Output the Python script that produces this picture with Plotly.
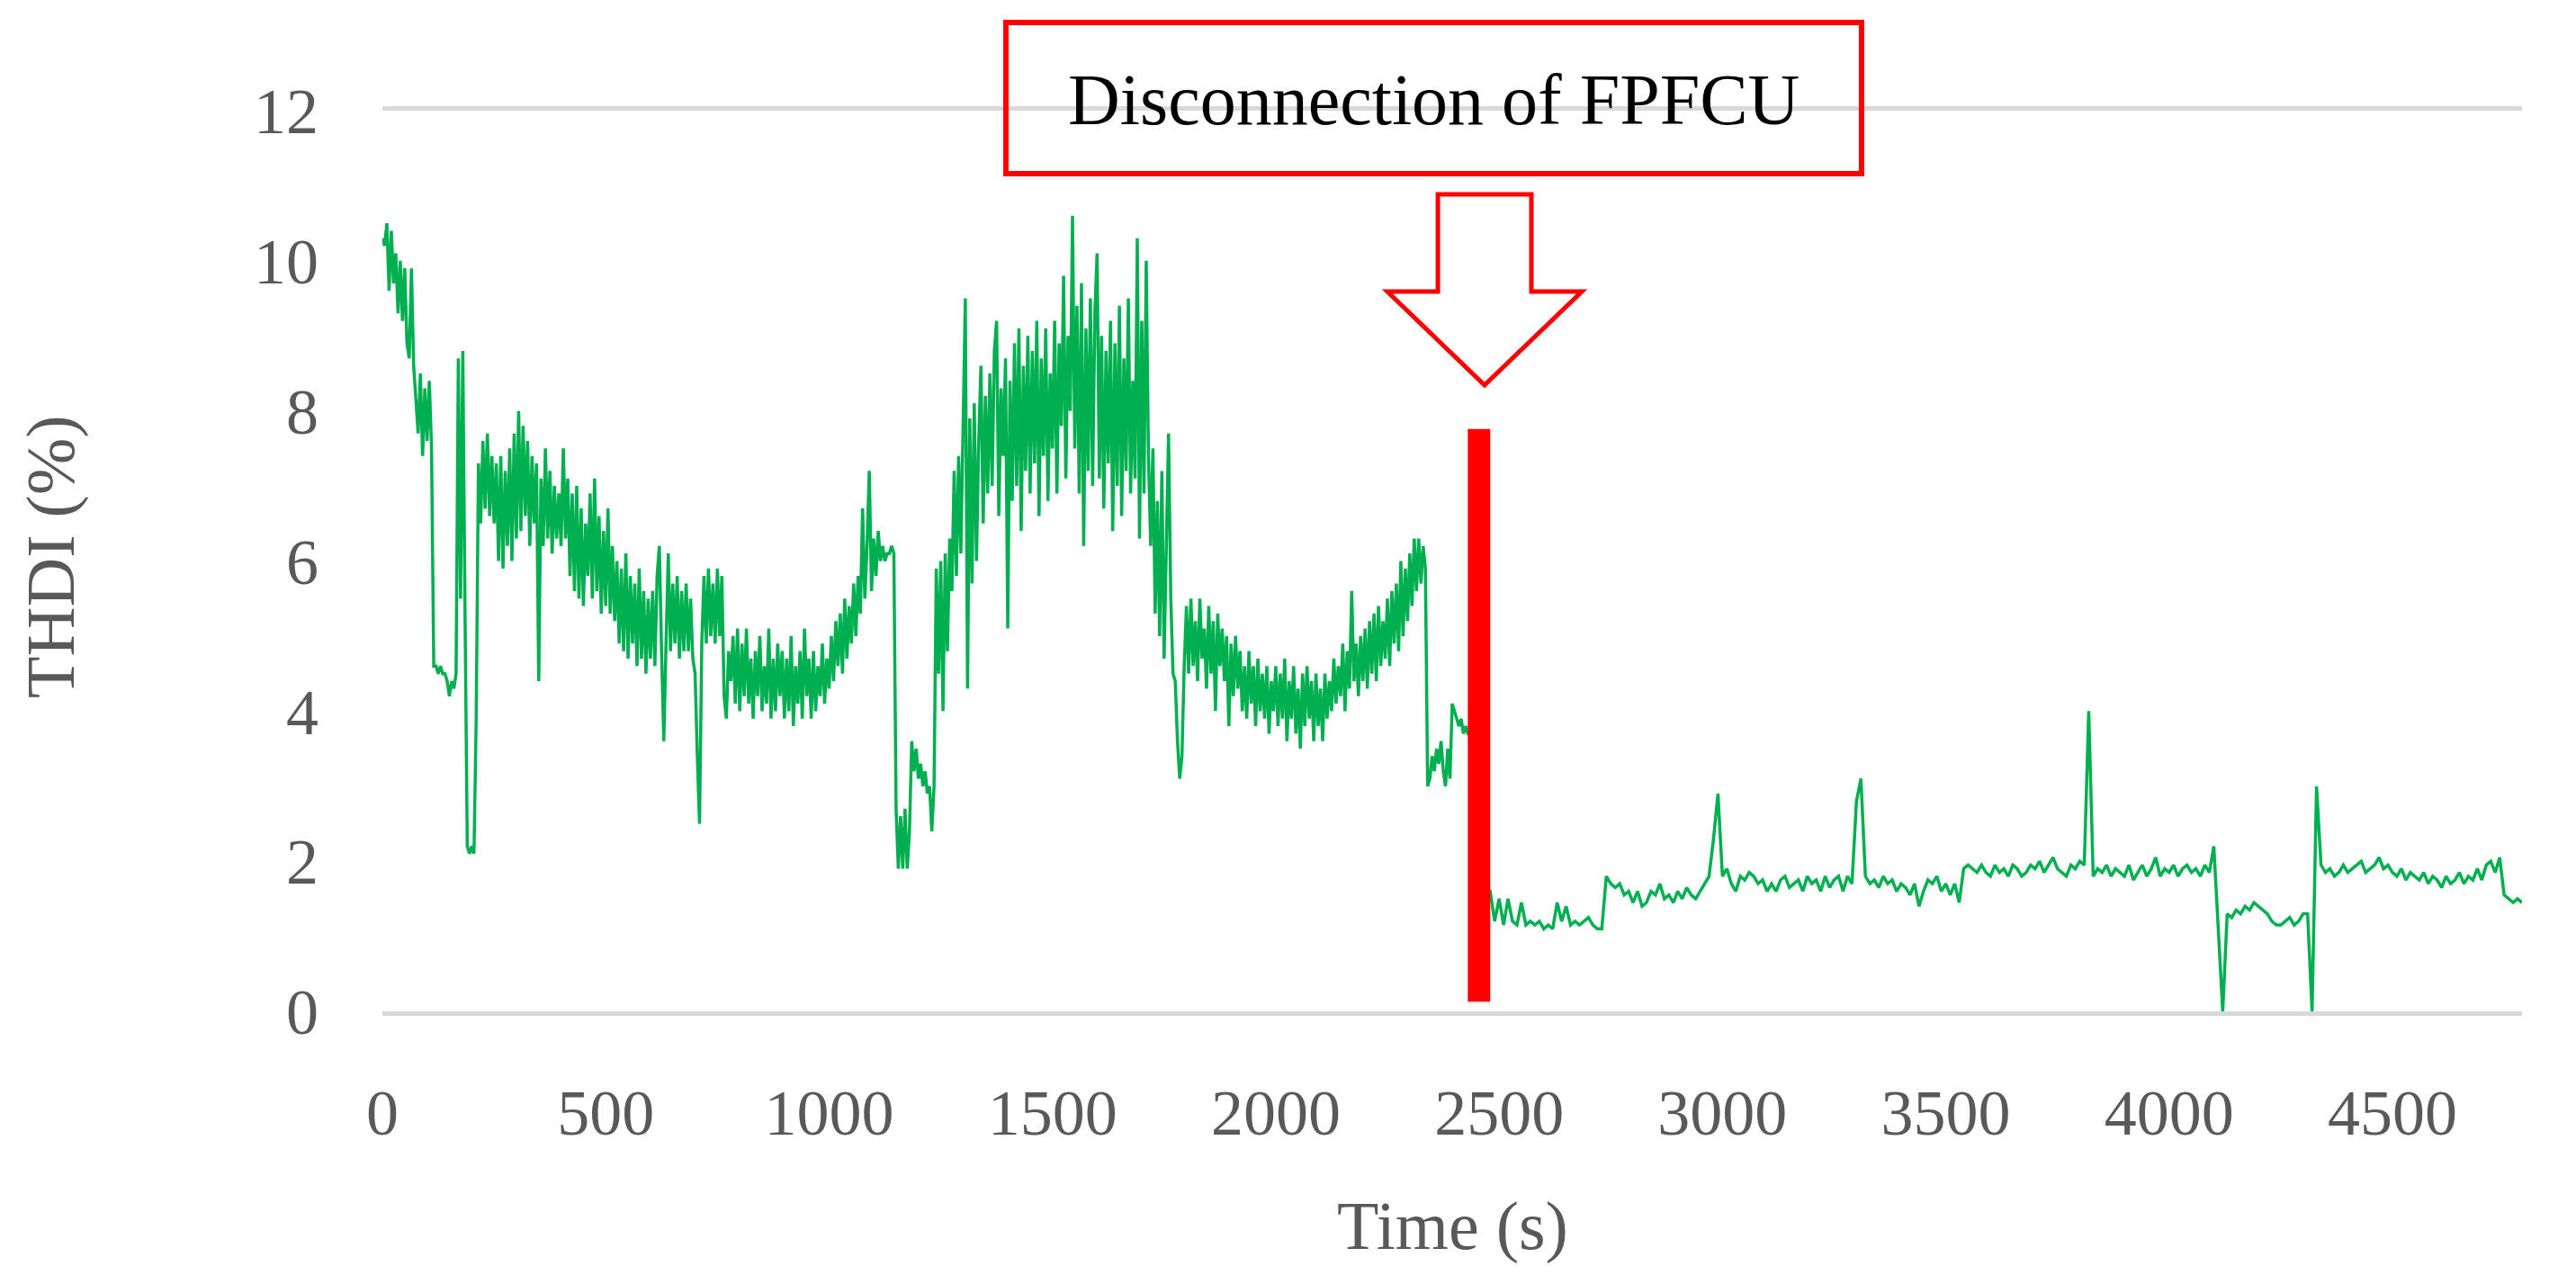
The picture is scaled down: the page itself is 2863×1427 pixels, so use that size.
"""
THDI trend recorded around the disconnection of the FPFCU.
Single green trace, red marker bar at the disconnection instant and a callout box.
"""

import plotly.graph_objects as go

# before the disconnection the signal is very noisy, so it is read every 5 s;
# afterwards it is flat enough to read every 10 s
FAST_STEP_S = 5
SLOW_START_S = 2450
SLOW_STEP_S = 10

# THDI (%) from t = 0 s, every 5 s (one row = 100 s)
THDI_FAST = [
	10.3, 10.2, 10.5, 9.6, 10.4, 9.7, 10.1, 9.3, 10.0, 9.2, 9.9, 8.9, 8.7, 9.9, 8.6, 8.1, 7.7, 8.5, 7.4, 8.3,
	7.6, 8.4, 7.5, 4.6, 4.6, 4.5, 4.6, 4.5, 4.5, 4.4, 4.2, 4.4, 4.3, 4.5, 8.7, 5.5, 8.8, 5.3, 2.2, 2.1,
	2.2, 2.1, 3.9, 7.3, 6.5, 7.6, 6.7, 7.7, 6.6, 7.4, 6.5, 7.3, 6.0, 7.4, 5.9, 7.2, 6.2, 7.5, 6.0, 7.7,
	6.3, 8.0, 6.4, 7.8, 6.6, 7.6, 6.2, 7.4, 6.5, 7.3, 4.4, 7.1, 6.2, 7.5, 6.3, 7.2, 6.1, 7.0, 6.3, 6.9,
	6.2, 7.5, 6.3, 7.1, 5.8, 6.9, 5.6, 7.0, 5.5, 6.7, 5.4, 6.5, 5.8, 6.9, 5.5, 7.1, 5.6, 6.6, 5.3, 6.4,
	5.4, 6.7, 5.3, 6.2, 5.2, 6.0, 4.9, 5.9, 4.8, 6.1, 4.7, 5.8, 4.9, 5.7, 4.6, 5.9, 4.7, 5.6, 4.5, 5.5,
	4.7, 5.6, 4.6, 5.8, 6.2, 4.8, 3.6, 4.9, 6.1, 4.8, 5.7, 4.9, 5.8, 4.7, 5.6, 4.8, 5.7, 4.8, 5.5, 4.7,
	4.5, 3.4, 2.5, 4.9, 5.8, 4.9, 5.9, 5.0, 5.7, 4.9, 5.9, 5.0, 5.8, 4.2, 3.9, 4.8, 4.4, 5.0, 4.1, 5.1,
	4.0, 4.9, 4.2, 5.1, 4.1, 4.7, 3.9, 4.8, 4.2, 5.0, 4.0, 4.6, 4.1, 5.1, 3.9, 4.7, 4.0, 4.9, 4.2, 4.8,
	3.9, 4.7, 4.0, 5.0, 3.8, 4.6, 4.1, 4.8, 3.9, 5.1, 4.2, 4.7, 3.9, 4.8, 4.0, 4.6, 4.2, 4.9, 4.1, 4.7,
	4.3, 5.0, 4.4, 5.2, 4.6, 5.3, 4.5, 5.5, 4.7, 5.4, 4.9, 5.7, 5.0, 5.8, 5.3, 6.7, 5.5, 6.2, 7.2, 5.6,
	6.3, 5.8, 6.4, 6.0, 6.2, 6.0, 6.1, 6.1, 6.2, 6.1, 2.7, 1.9, 2.6, 1.9, 2.7, 1.9, 2.4, 3.6, 3.2, 3.5,
	3.1, 3.3, 3.0, 3.2, 2.9, 3.0, 2.4, 3.0, 5.9, 4.5, 6.0, 4.0, 6.1, 4.8, 6.3, 5.6, 7.2, 5.8, 7.4, 6.1,
	8.0, 9.5, 4.3, 7.9, 5.7, 8.1, 6.0, 7.6, 8.6, 6.5, 8.2, 6.9, 8.5, 7.0, 8.8, 9.2, 6.6, 8.3, 7.4, 8.7,
	5.1, 8.4, 6.8, 8.9, 7.0, 9.1, 6.4, 8.6, 7.2, 9.0, 6.9, 8.8, 7.3, 9.2, 6.6, 8.7, 7.4, 9.1, 6.8, 8.5,
	7.5, 9.2, 6.9, 8.9, 7.8, 9.8, 7.1, 9.0, 8.0, 10.6, 7.5, 9.4, 6.9, 9.7, 6.2, 9.1, 7.2, 9.5, 7.0, 9.3,
	10.1, 7.1, 9.0, 6.7, 8.8, 7.3, 9.2, 6.4, 8.9, 7.0, 9.4, 6.6, 8.7, 7.2, 9.5, 6.9, 8.4, 7.1, 10.3, 6.3,
	9.2, 6.9, 10.0, 7.4, 6.2, 7.5, 5.3, 6.8, 5.0, 7.2, 4.7, 6.0, 7.7, 5.5, 4.5, 4.4, 3.6, 3.1, 3.4, 4.6,
	5.4, 4.5, 5.5, 4.6, 5.2, 4.4, 5.5, 4.7, 5.1, 4.3, 5.4, 4.5, 5.2, 4.0, 5.3, 4.6, 5.1, 4.4, 5.0, 3.8,
	4.9, 4.2, 5.0, 4.3, 4.8, 4.0, 4.6, 3.9, 4.8, 4.1, 4.6, 3.8, 4.7, 4.0, 4.5, 3.9, 4.6, 3.7, 4.4, 4.0,
	4.6, 3.8, 4.5, 3.9, 4.7, 3.6, 4.4, 3.9, 4.6, 3.7, 4.3, 3.5, 4.5, 3.8, 4.6, 3.9, 4.4, 3.6, 4.5, 3.8,
	4.3, 3.6, 4.5, 3.9, 4.4, 4.0, 4.7, 4.1, 4.6, 4.2, 4.9, 4.0, 4.8, 4.3, 5.6, 4.4, 4.9, 4.2, 5.0, 4.4,
	5.1, 4.3, 5.2, 4.5, 5.3, 4.4, 5.4, 4.6, 5.2, 4.7, 5.5, 4.6, 5.6, 4.9, 5.7, 4.8, 6.0, 5.0, 5.9, 5.2,
	6.1, 5.4, 6.3, 5.6, 6.3, 5.7, 6.2, 5.9, 3.0, 3.1, 3.4, 3.2, 3.5, 3.3, 3.6, 3.2, 3.0, 3.5, 3.1, 4.1,
	4.0, 3.9, 3.8, 3.9, 3.7, 3.8, 3.7, 3.7, 3.6, 3.7,
]

# THDI (%) from t = 2450 s, every 10 s (rows aligned on whole hundreds after the first)
THDI_SLOW = [
	3.7, 1.2, 1.6, 1.6, 1.2,
	1.5, 1.15, 1.5, 1.2, 1.15, 1.45, 1.15, 1.2, 1.15, 1.2,
	1.1, 1.15, 1.1, 1.45, 1.2, 1.4, 1.15, 1.2, 1.15, 1.2,
	1.25, 1.15, 1.1, 1.1, 1.8, 1.7, 1.65, 1.7, 1.55, 1.6,
	1.45, 1.6, 1.4, 1.45, 1.6, 1.55, 1.7, 1.5, 1.55, 1.45,
	1.6, 1.5, 1.65, 1.55, 1.5, 1.6, 1.7, 1.8, 2.3, 2.9,
	1.8, 1.9, 1.7, 1.6, 1.8, 1.75, 1.85, 1.8, 1.7, 1.75,
	1.6, 1.7, 1.6, 1.75, 1.8, 1.65, 1.7, 1.75, 1.6, 1.8,
	1.7, 1.75, 1.6, 1.8, 1.65, 1.75, 1.8, 1.6, 1.8, 1.7,
	2.8, 3.1, 1.8, 1.7, 1.75, 1.65, 1.8, 1.7, 1.75, 1.6,
	1.7, 1.65, 1.55, 1.7, 1.4, 1.6, 1.75, 1.7, 1.8, 1.6,
	1.7, 1.55, 1.7, 1.45, 1.9, 1.95, 1.9, 1.85, 1.95, 1.85,
	1.8, 1.95, 1.85, 1.9, 1.8, 1.95, 1.9, 1.8, 1.85, 1.95,
	1.9, 2.0, 1.85, 1.95, 2.05, 1.9, 1.85, 1.8, 1.95, 1.9,
	2.0, 1.95, 4.0, 1.8, 1.9, 1.85, 1.95, 1.8, 1.9, 1.85,
	1.8, 1.95, 1.75, 1.85, 1.95, 1.8, 1.9, 2.05, 1.8, 1.9,
	1.85, 1.95, 1.8, 1.9, 1.95, 1.85, 1.9, 1.8, 1.95, 1.85,
	2.2, 1.1, 0.0, 1.3, 1.25, 1.35, 1.3, 1.4, 1.35, 1.45,
	1.4, 1.35, 1.3, 1.2, 1.15, 1.15, 1.2, 1.25, 1.15, 1.2,
	1.3, 1.3, 0.0, 3.0, 1.95, 1.85, 1.9, 1.8, 1.85, 1.95,
	1.85, 1.9, 1.95, 2.0, 1.85, 1.9, 1.95, 2.05, 1.9, 1.95,
	1.85, 1.8, 1.9, 1.75, 1.85, 1.8, 1.75, 1.85, 1.7, 1.8,
	1.75, 1.65, 1.8, 1.7, 1.75, 1.85, 1.7, 1.8, 1.75, 1.9,
	1.75, 1.95, 2.0, 1.85, 2.05, 1.55, 1.5, 1.45, 1.5, 1.45,
]

X_TICKS = [0, 500, 1000, 1500, 2000, 2500, 3000, 3500, 4000, 4500]
Y_TICKS = [0, 2, 4, 6, 8, 10, 12]
X_MAX = 4790

# disconnection instant (s) and vertical extent of the red marker (%)
DISCONNECT_T = 2455
DISCONNECT_SPAN = [0.13, 7.76]

EVENT_LABEL = "Disconnection of FPFCU"
X_TITLE = "Time (s)"
Y_TITLE = "THDI (%)"

SERIF = "Liberation Serif, Times New Roman, serif"
GREEN = "#00B050"
RED = "#FF0000"
GREY_TEXT = "#595959"
GREY_LINE = "#D9D9D9"

# the page body keeps its default 8 px margin, so the figure is made 8 px
# smaller and the margins pulled in by the same amount
PAGE_PAD = 8


def thdi_chart() -> go.Figure:
	time_s = [i * FAST_STEP_S for i in range(len(THDI_FAST))]
	time_s += [SLOW_START_S + i * SLOW_STEP_S for i in range(len(THDI_SLOW))]
	thdi = THDI_FAST + THDI_SLOW

	fig = go.Figure()

	fig.add_trace(
		go.Scatter(
			x=time_s,
			y=thdi,
			mode="lines",
			name="THDI",
			line=dict(color=GREEN, width=3.5),
			showlegend=False,
		)
	)

	# thick red bar at the disconnection time
	fig.add_trace(
		go.Scatter(
			x=[DISCONNECT_T, DISCONNECT_T],
			y=DISCONNECT_SPAN,
			mode="lines",
			line=dict(color=RED, width=25),
			showlegend=False,
			hoverinfo="skip",
		)
	)

	# callout box + hollow block arrow (paper coordinates)
	fig.add_shape(
		type="rect",
		xref="paper", yref="paper",
		x0=0.2914, x1=0.6913, y0=0.930, y1=1.098,
		line=dict(color=RED, width=6),
		fillcolor="rgba(0,0,0,0)",
	)
	fig.add_shape(
		type="path",
		xref="paper", yref="paper",
		path=(
			"M 0.4933 0.9071 L 0.5370 0.9071 L 0.5370 0.7992 L 0.5606 0.7992 "
			"L 0.5151 0.6953 L 0.4697 0.7992 L 0.4933 0.7992 Z"
		),
		line=dict(color=RED, width=5),
		fillcolor="white",
	)

	fig.add_annotation(
		text=EVENT_LABEL,
		xref="paper", yref="paper",
		x=0.4914, y=1.012,
		xanchor="center", yanchor="middle",
		showarrow=False,
		font=dict(family=SERIF, size=80, color="black"),
	)
	fig.add_annotation(
		text=X_TITLE,
		xref="paper", yref="paper",
		x=0.5, y=-0.2378,
		xanchor="center", yanchor="middle",
		showarrow=False,
		font=dict(family=SERIF, size=76, color=GREY_TEXT),
	)
	fig.add_annotation(
		text=Y_TITLE,
		xref="paper", yref="paper",
		x=-0.1548, y=0.5045,
		xanchor="center", yanchor="middle",
		textangle=-90,
		showarrow=False,
		font=dict(family=SERIF, size=76, color=GREY_TEXT),
	)

	fig.update_xaxes(
		range=[0, X_MAX],
		tickvals=X_TICKS,
		showgrid=False,
		zeroline=False,
		showline=True,
		linecolor=GREY_LINE,
		linewidth=5,
		mirror=True,
		ticks="",
		ticklabelstandoff=46,
		tickfont=dict(family=SERIF, size=72, color=GREY_TEXT),
	)
	fig.update_yaxes(
		range=[0, 12],
		tickvals=Y_TICKS,
		showgrid=False,
		zeroline=False,
		showline=False,
		ticks="",
		ticklabelstandoff=70,
		tickfont=dict(family=SERIF, size=72, color=GREY_TEXT),
	)

	fig.update_layout(
		width=2863 - PAGE_PAD,
		height=1427 - PAGE_PAD,
		margin=dict(l=425 - PAGE_PAD, r=60, t=123 - PAGE_PAD, b=303, autoexpand=False),
		plot_bgcolor="white",
		paper_bgcolor="white",
		showlegend=False,
	)
	return fig


if __name__ == "__main__":
	fig = thdi_chart()
	fig.write_html("out.html")
